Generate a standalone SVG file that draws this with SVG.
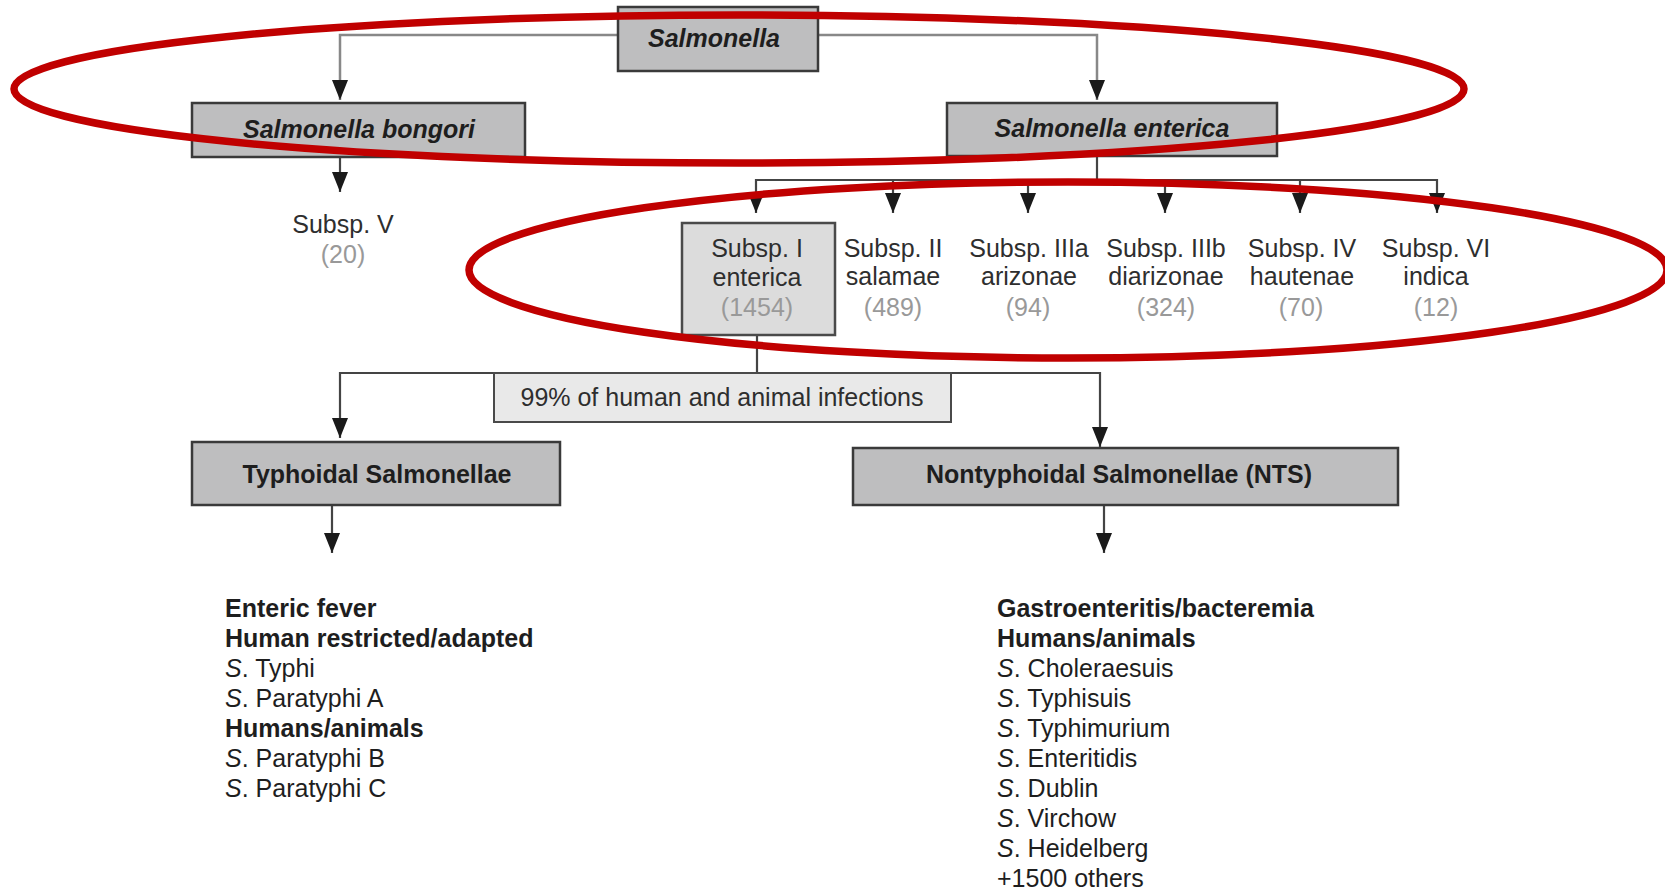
<svg xmlns="http://www.w3.org/2000/svg" width="1665" height="892" viewBox="0 0 1665 892">
<defs>
<marker id="ah" viewBox="0 0 20 16" refX="20" refY="8" markerWidth="20" markerHeight="16" markerUnits="userSpaceOnUse" orient="auto">
<path d="M0,0 L20,8 L0,16 z" fill="#1a1a1a"/>
</marker>
<style>
text{font-family:"Liberation Sans",Arial,sans-serif;font-size:25px;fill:#1e1e1e}
.box{fill:#bebebf;stroke:#3a3a3a;stroke-width:2.5}
.lt{fill:#dcdcdc;stroke:#4a4a4a;stroke-width:2.5}
.lb{fill:#e9e9e9;stroke:#4a4a4a;stroke-width:2}
.bi{font-weight:bold;font-style:italic;text-anchor:middle}
.bc{font-weight:bold;text-anchor:middle}
.c{text-anchor:middle;fill:#2e2e2e}
.n{text-anchor:middle;fill:#999}
.b{font-weight:bold}
.conn{fill:none;stroke:#444;stroke-width:2.2}
.top{fill:none;stroke:#888;stroke-width:2.5}
.ring{fill:none;stroke:#c00000;stroke-width:7.5}
</style>
</defs>
<rect width="1665" height="892" fill="#ffffff"/>
<g id="connectors">
<path class="top" d="M618,35 H340 V100" marker-end="url(#ah)"/>
<path class="top" d="M818,35 H1097 V100" marker-end="url(#ah)"/>
<path class="conn" d="M340,157 V192" marker-end="url(#ah)"/>
<path class="conn" d="M1097,156 V180 H756 V213" marker-end="url(#ah)"/>
<path class="conn" d="M893,180 V213" marker-end="url(#ah)"/>
<path class="conn" d="M1028,180 V213" marker-end="url(#ah)"/>
<path class="conn" d="M1165,180 V213" marker-end="url(#ah)"/>
<path class="conn" d="M1300,180 V213" marker-end="url(#ah)"/>
<path class="conn" d="M1097,180 H1437 V213" marker-end="url(#ah)"/>
<path class="conn" d="M757,335 V373 H340 V438" marker-end="url(#ah)"/>
<path class="conn" d="M757,373 H1100 V447" marker-end="url(#ah)"/>
<path class="conn" d="M332,505 V553" marker-end="url(#ah)"/>
<path class="conn" d="M1104,505 V553" marker-end="url(#ah)"/>
</g>
<g id="salmonella">
<rect class="box" x="618" y="7" width="200" height="64"/>
<text class="bi" x="714" y="47">Salmonella</text>
</g>
<g id="bongori">
<rect class="box" x="192" y="103" width="333" height="54"/>
<text class="bi" x="359" y="138">Salmonella bongori</text>
</g>
<g id="enterica">
<rect class="box" x="947" y="103" width="330" height="53"/>
<text class="bi" x="1112" y="137">Salmonella enterica</text>
</g>
<g id="subsp-v">
<text class="c" x="343" y="233">Subsp. V</text>
<text class="n" x="343" y="263">(20)</text>
</g>
<g id="subsp-i">
<rect class="lt" x="682" y="223" width="153" height="112"/>
<text class="c" x="757" y="257">Subsp. I</text>
<text class="c" x="757" y="286">enterica</text>
<text class="n" x="757" y="316">(1454)</text>
</g>
<g id="subsp-ii">
<text class="c" x="893" y="257">Subsp. II</text>
<text class="c" x="893" y="285">salamae</text>
<text class="n" x="893" y="316">(489)</text>
</g>
<g id="subsp-iiia">
<text class="c" x="1029" y="257">Subsp. IIIa</text>
<text class="c" x="1029" y="285">arizonae</text>
<text class="n" x="1028" y="316">(94)</text>
</g>
<g id="subsp-iiib">
<text class="c" x="1166" y="257">Subsp. IIIb</text>
<text class="c" x="1166" y="285">diarizonae</text>
<text class="n" x="1166" y="316">(324)</text>
</g>
<g id="subsp-iv">
<text class="c" x="1302" y="257">Subsp. IV</text>
<text class="c" x="1302" y="285">hautenae</text>
<text class="n" x="1301" y="316">(70)</text>
</g>
<g id="subsp-vi">
<text class="c" x="1436" y="257">Subsp. VI</text>
<text class="c" x="1436" y="285">indica</text>
<text class="n" x="1436" y="316">(12)</text>
</g>
<g id="infections">
<rect class="lb" x="494" y="373" width="457" height="49"/>
<text class="c" x="722" y="406">99% of human and animal infections</text>
</g>
<g id="typhoidal">
<rect class="box" x="192" y="442" width="368" height="63"/>
<text class="bc" x="377" y="483">Typhoidal Salmonellae</text>
</g>
<g id="nts">
<rect class="box" x="853" y="448" width="545" height="57"/>
<text class="bc" x="1119" y="483">Nontyphoidal Salmonellae (NTS)</text>
</g>
<g id="typhoidal-list">
<text x="225" y="617" class="b">Enteric fever</text>
<text x="225" y="647" class="b">Human restricted/adapted</text>
<text x="225" y="677"><tspan font-style="italic">S</tspan>. Typhi</text>
<text x="225" y="707"><tspan font-style="italic">S</tspan>. Paratyphi A</text>
<text x="225" y="737" class="b">Humans/animals</text>
<text x="225" y="767"><tspan font-style="italic">S</tspan>. Paratyphi B</text>
<text x="225" y="797"><tspan font-style="italic">S</tspan>. Paratyphi C</text>
</g>
<g id="nts-list">
<text x="997" y="617" class="b">Gastroenteritis/bacteremia</text>
<text x="997" y="647" class="b">Humans/animals</text>
<text x="997" y="677"><tspan font-style="italic">S</tspan>. Choleraesuis</text>
<text x="997" y="707"><tspan font-style="italic">S</tspan>. Typhisuis</text>
<text x="997" y="737"><tspan font-style="italic">S</tspan>. Typhimurium</text>
<text x="997" y="767"><tspan font-style="italic">S</tspan>. Enteritidis</text>
<text x="997" y="797"><tspan font-style="italic">S</tspan>. Dublin</text>
<text x="997" y="827"><tspan font-style="italic">S</tspan>. Virchow</text>
<text x="997" y="857"><tspan font-style="italic">S</tspan>. Heidelberg</text>
<text x="997" y="887">+1500 others</text>
</g>
<g id="highlights">
<ellipse class="ring" cx="739" cy="89" rx="725" ry="74"/>
<ellipse class="ring" cx="1068" cy="270" rx="599" ry="88"/>
</g>
</svg>
